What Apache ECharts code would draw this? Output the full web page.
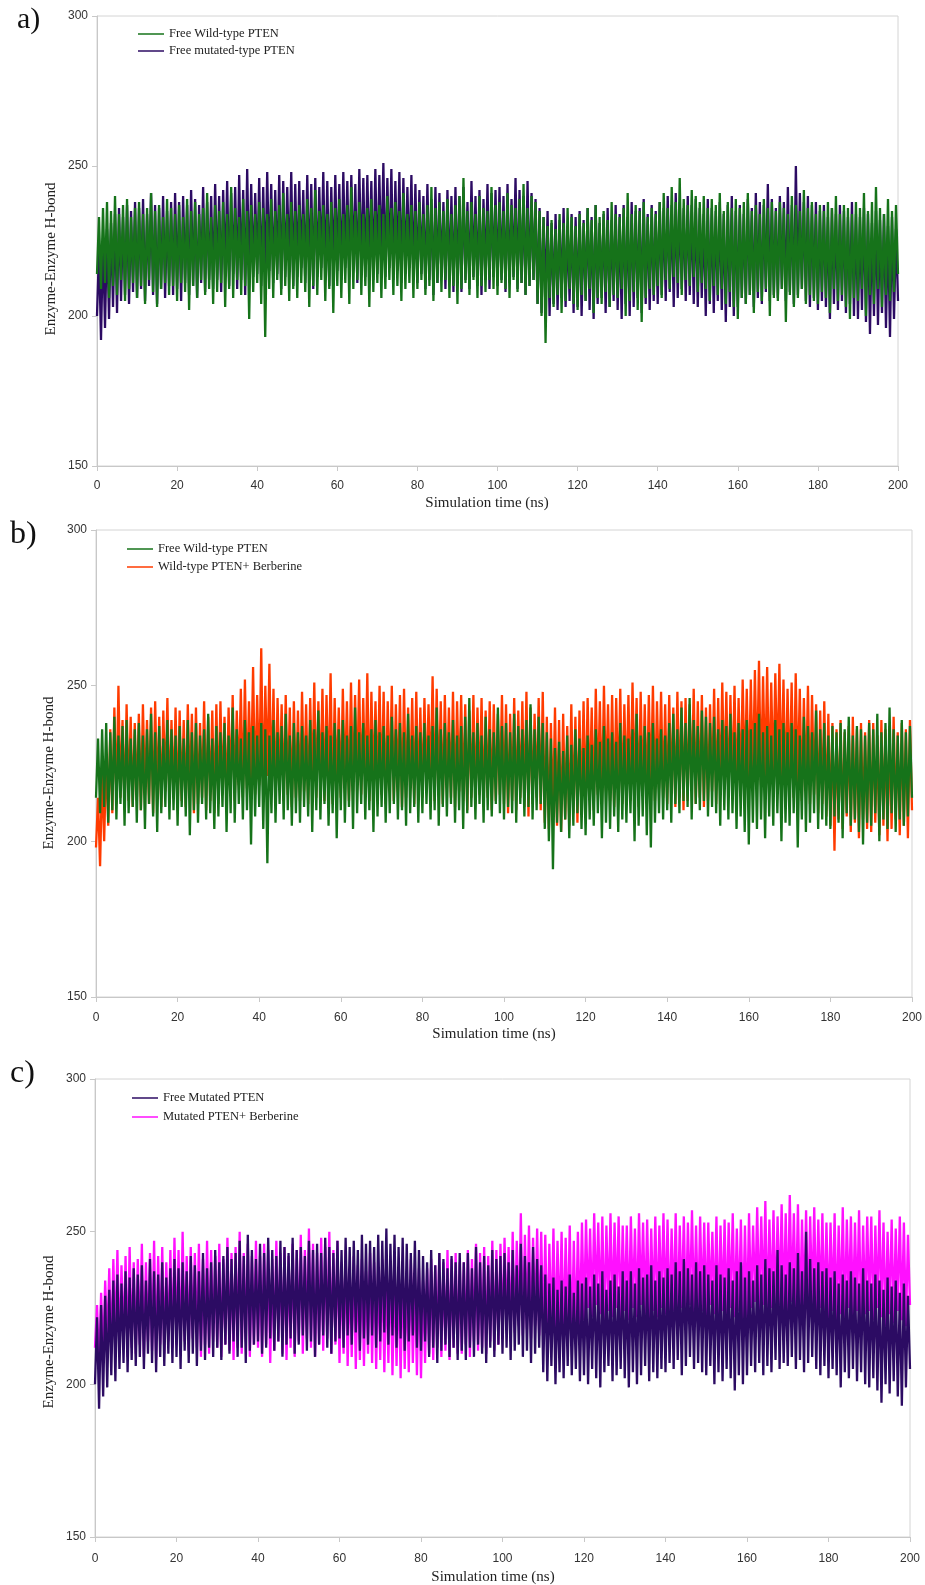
<!DOCTYPE html>
<html>
<head>
<meta charset="utf-8">
<script src="https://cdn.jsdelivr.net/npm/echarts@6/dist/echarts.min.js"></script>
<style>
  html, body { margin: 0; padding: 0; background: #fff; }
  #chart { width: 925px; height: 1585px; }
</style>
</head>
<body>
<div id="chart"></div>
<script>
// sampling step of the H-bond traces (ns)
var STEP_NS = 0.5;

// x / y tick settings
var xTicks = [0, 20, 40, 60, 80, 100, 120, 140, 160, 180, 200];
var yTicks = [150, 200, 250, 300];

// Free Wild-type PTEN (green), one row = 10 ns
var wildFree = [
  214,233,209,236,211,238,206,235,210,240,207,234,212,237,205,239,209,233,211,236,
  206,238,210,234,204,236,212,241,208,235,203,237,209,233,211,239,207,236,210,234,
  205,237,211,233,208,239,202,235,210,238,206,234,212,236,207,241,209,233,204,237,
  208,235,211,238,203,234,209,243,206,236,212,233,207,239,210,235,199,237,208,234,
  211,238,204,236,193,234,209,239,206,235,212,237,207,241,210,234,205,238,209,235,
  206,237,211,234,208,239,203,236,210,242,207,235,212,237,205,234,209,238,201,236,
  210,239,206,234,211,237,204,243,209,235,212,238,207,234,210,236,203,239,208,235,
  211,237,206,234,209,240,212,236,207,238,210,235,205,241,209,234,211,237,206,235,
  209,238,212,234,207,237,210,243,205,236,211,238,208,235,212,239,206,234,210,237,
  204,240,209,246,211,235,207,238,212,234,206,240,210,236,208,235,212,243,209,237,
  207,238,211,235,209,241,206,237,212,236,208,239,211,244,207,236,210,240,212,238,
  204,235,200,233,191,230,206,232,203,229,207,234,201,231,205,236,209,233,204,230,
  202,234,207,231,205,236,209,232,201,237,206,233,204,235,208,232,203,238,207,234,
  206,233,209,236,200,241,205,234,208,237,202,235,198,238,206,233,209,236,207,234,
  210,238,206,241,212,236,209,243,213,238,211,246,207,239,212,237,210,242,213,240,
  208,238,211,240,209,236,205,239,210,237,207,241,209,235,204,238,208,236,203,239,
  199,236,206,238,204,241,207,235,201,237,208,234,205,239,209,236,200,238,206,235,
  205,238,209,236,198,234,207,240,203,237,206,235,209,242,204,236,207,238,205,234,
  204,237,208,235,206,238,201,236,209,240,205,234,207,237,203,236,199,234,206,238,
  205,236,209,241,200,235,207,238,204,243,209,236,203,234,207,239,205,235,208,237,
  214
];

// Free mutated PTEN (dark purple)
var mutFree = [
  200,222,192,226,196,229,199,231,203,234,201,236,205,233,207,237,204,235,208,238,
  206,236,209,239,205,234,210,241,207,237,204,236,209,240,206,235,210,238,207,241,
  209,238,205,240,211,237,207,242,210,239,206,237,211,243,208,238,212,240,209,244,
  212,240,208,242,213,245,210,241,214,243,209,247,212,242,207,249,211,244,213,241,
  214,246,210,243,212,248,215,244,211,242,214,247,209,245,213,243,215,248,210,244,
  213,245,216,242,211,247,214,244,209,246,213,243,216,248,212,245,210,243,214,247,
  215,244,212,248,216,245,213,247,217,244,211,249,215,246,213,247,216,245,212,249,
  214,247,217,251,213,246,216,249,212,245,215,248,211,246,214,243,216,247,212,244,
  211,242,214,240,209,244,212,239,207,243,211,241,213,238,209,242,212,240,208,243,
  211,240,208,243,212,238,209,245,213,240,210,242,207,239,212,244,209,241,213,242,
  210,243,212,240,208,244,211,239,213,246,209,242,211,240,207,245,210,241,212,239,
  204,236,201,233,206,235,200,231,204,234,202,232,206,236,203,230,205,234,201,233,
  203,235,200,232,205,236,202,233,199,237,204,231,206,234,201,236,203,232,205,237,
  202,234,199,237,204,233,200,238,203,235,206,236,201,239,204,234,202,237,205,235,
  204,238,207,236,205,240,208,237,203,241,206,238,209,236,205,240,207,237,204,239,
  203,236,206,234,200,239,204,236,201,235,205,238,202,234,198,237,203,240,200,235,
  203,237,206,234,204,239,207,236,203,241,206,238,204,237,208,244,205,239,207,236,
  206,240,209,238,205,243,208,237,204,250,207,241,209,238,205,240,203,237,206,238,
  202,235,205,237,203,233,199,236,204,234,202,237,205,235,201,233,204,238,200,234,
  199,233,202,236,198,234,194,231,200,235,197,232,201,234,196,230,193,233,199,229,
  205
];

// Wild-type PTEN + Berberine (orange-red)
var wildBerb = [
  198,214,192,222,200,228,205,236,209,243,212,250,214,239,210,244,213,240,211,238,
  213,241,210,244,215,239,212,243,209,245,214,240,211,242,216,246,212,239,214,243,
  210,242,213,239,211,244,215,241,209,243,212,238,214,245,210,240,213,242,209,244,
  212,245,215,240,211,243,216,247,213,242,218,249,214,252,217,245,219,256,215,247,
  218,262,214,250,221,257,216,249,212,246,217,244,213,247,215,243,211,245,214,242,
  213,248,216,244,212,246,217,251,214,245,218,249,213,247,216,254,212,246,217,243,
  214,249,218,245,213,251,216,247,219,252,215,246,217,254,213,248,218,245,216,250,
  215,248,212,245,217,250,213,244,216,247,211,249,214,243,217,246,212,248,215,243,
  214,246,217,244,218,253,213,249,216,245,212,247,217,243,214,248,211,245,216,247,
  213,244,210,242,214,247,212,243,215,246,211,242,214,245,210,244,213,241,215,247,
  212,244,209,241,213,246,210,242,214,245,211,248,208,243,212,241,214,246,210,248,
  206,240,204,238,208,243,205,239,203,241,207,237,205,244,209,240,206,242,210,245,
  211,246,214,243,210,249,215,245,212,250,216,244,213,247,211,246,215,249,212,244,
  216,247,213,251,217,246,211,248,215,244,212,247,216,250,213,245,217,248,214,244,
  212,247,215,243,211,248,214,245,210,246,213,244,216,249,212,245,214,247,211,243,
  213,244,216,249,212,246,215,251,218,248,214,247,217,250,213,246,216,252,219,249,
  216,252,219,255,221,258,218,253,220,256,217,251,219,254,222,257,218,252,215,249,
  217,251,214,254,218,249,213,246,216,250,212,247,215,244,209,242,212,245,208,241,
  205,238,197,236,207,239,204,235,208,237,203,240,206,236,201,238,207,235,204,239,
  203,238,206,234,202,239,205,236,200,237,204,240,207,235,202,238,205,236,201,239,
  210
];

// Mutated PTEN + Berberine (magenta)
var mutBerb = [
  212,226,205,230,209,234,213,238,210,241,214,244,211,239,213,242,209,245,212,240,
  210,241,213,246,209,240,214,243,211,247,208,242,213,245,210,240,214,244,212,248,
  213,244,210,250,214,242,211,245,215,243,212,246,209,241,213,247,210,244,214,242,
  212,246,209,241,213,248,211,243,208,245,212,250,210,243,214,246,209,242,213,247,
  212,242,209,246,213,244,207,241,211,247,214,243,210,245,208,242,212,246,209,244,
  214,249,210,244,215,251,212,246,209,243,213,248,211,245,215,250,210,244,213,247,
  207,240,210,244,206,238,209,242,205,239,208,241,206,237,210,243,207,240,205,238,
  208,241,204,237,207,240,203,238,206,236,202,239,205,237,204,241,207,235,203,238,
  202,234,207,238,210,241,208,239,212,243,209,240,211,244,208,241,212,243,210,240,
  210,240,213,244,209,241,214,246,211,243,212,245,210,242,214,247,211,244,213,246,
  215,248,218,245,214,250,217,247,219,256,216,249,218,252,215,248,219,251,216,250,
  216,249,213,246,217,251,214,247,218,250,215,248,217,252,213,247,216,250,218,253,
  221,254,225,251,222,256,226,253,223,255,220,252,224,256,222,253,225,255,221,252,
  224,252,221,255,225,251,222,256,226,253,223,254,220,251,224,255,222,252,225,256,
  223,254,220,251,224,256,221,252,225,255,222,253,226,257,223,252,221,255,224,253,
  222,253,226,250,223,255,220,252,224,254,221,253,225,256,222,251,224,254,220,252,
  221,256,225,252,227,258,224,255,226,260,222,254,225,257,223,255,226,259,224,256,
  223,262,227,256,224,259,222,254,225,257,221,255,226,258,223,254,225,256,222,253,
  221,253,224,256,220,252,223,258,221,254,225,255,222,253,224,257,221,252,223,255,
  224,255,221,252,225,257,222,253,219,250,223,254,220,251,224,255,221,253,219,249,
  226
];

var GREEN = '#16731a';
var PURPLE = '#2c0b63';
var ORANGE = '#ff3b00';
var MAGENTA = '#ff10ff';

function toPoints(vals) {
  return vals.map(function (v, i) { return [i * STEP_NS, v]; });
}

var serif = '"Liberation Serif", "DejaVu Serif", serif';
var sans = '"Liberation Sans", Arial, sans-serif';

// panel boxes
var grids = [
  { left: 97, top: 16, width: 801, height: 450 },
  { left: 96, top: 530, width: 816, height: 467 },
  { left: 95, top: 1079, width: 815, height: 458 }
];
var labelMargins = [14, 15, 16];

var xAxes = grids.map(function (g, i) {
  return {
    type: 'value', gridIndex: i, min: xTicks[0], max: xTicks[xTicks.length - 1], interval: 20,
    axisLine: { lineStyle: { color: '#c8c8c8', width: 1 } },
    axisTick: { length: 5, lineStyle: { color: '#c8c8c8' } },
    axisLabel: { color: '#333', fontFamily: sans, fontSize: 12, margin: labelMargins[i] },
    splitLine: { show: false }
  };
});
var yAxes = grids.map(function (g, i) {
  return {
    type: 'value', gridIndex: i, min: yTicks[0], max: yTicks[yTicks.length - 1], interval: 50,
    axisLine: { show: true, lineStyle: { color: '#c8c8c8', width: 1 } },
    axisTick: { show: true, length: 5, lineStyle: { color: '#c8c8c8' } },
    axisLabel: { color: '#333', fontFamily: sans, fontSize: 12, margin: 9 },
    splitLine: { show: false }
  };
});

function line(name, vals, color, gi, z) {
  return {
    name: name, type: 'line', xAxisIndex: gi, yAxisIndex: gi,
    data: toPoints(vals), symbol: 'none', z: z,
    lineStyle: { color: color, width: 2.3, join: 'bevel' },
    itemStyle: { color: color },
    animation: false
  };
}

function legend(names, left, top, gap) {
  return {
    orient: 'vertical', left: left, top: top, data: names, padding: 0,
    icon: 'rect', itemWidth: 26, itemHeight: 1.5, itemGap: gap,
    selectedMode: false,
    textStyle: { fontFamily: serif, fontSize: 12.5, color: '#222', lineHeight: 14 }
  };
}

var chart = echarts.init(document.getElementById('chart'));
chart.setOption({
  backgroundColor: '#fff',
  animation: false,
  grid: grids.map(function (g) {
    return Object.assign({ show: true, borderColor: '#d4d4d4', borderWidth: 1, backgroundColor: 'transparent' }, g);
  }),
  xAxis: xAxes,
  yAxis: yAxes,
  legend: [
    legend(['Free Wild-type PTEN', 'Free mutated-type PTEN'], 138, 27, 3),
    legend(['Free Wild-type PTEN ', 'Wild-type PTEN+ Berberine'], 127, 542, 4),
    legend(['Free Mutated PTEN', 'Mutated PTEN+ Berberine'], 132, 1091, 5)
  ],
  series: [
    line('Free mutated-type PTEN', mutFree, PURPLE, 0, 2),
    line('Free Wild-type PTEN', wildFree, GREEN, 0, 3),
    line('Wild-type PTEN+ Berberine', wildBerb, ORANGE, 1, 2),
    line('Free Wild-type PTEN ', wildFree, GREEN, 1, 3),
    line('Mutated PTEN+ Berberine', mutBerb, MAGENTA, 2, 2),
    line('Free Mutated PTEN', mutFree, PURPLE, 2, 3)
  ],
  graphic: [
    { type: 'text', left: 17, top: 5, style: { text: 'a)', font: '30px ' + serif, fill: '#111' } },
    { type: 'text', left: 10, top: 519, style: { text: 'b)', font: '32px ' + serif, fill: '#111' } },
    { type: 'text', left: 10, top: 1058, style: { text: 'c)', font: '32px ' + serif, fill: '#111' } },

    { type: 'text', x: 51, y: 259, rotation: Math.PI / 2, style: { text: 'Enzyme-Enzyme H-bond', font: '15px ' + serif, fill: '#222', align: 'center', verticalAlign: 'middle' } },
    { type: 'text', x: 49, y: 773, rotation: Math.PI / 2, style: { text: 'Enzyme-Enzyme H-bond', font: '15px ' + serif, fill: '#222', align: 'center', verticalAlign: 'middle' } },
    { type: 'text', x: 49, y: 1332, rotation: Math.PI / 2, style: { text: 'Enzyme-Enzyme H-bond', font: '15px ' + serif, fill: '#222', align: 'center', verticalAlign: 'middle' } },

    { type: 'text', x: 487, y: 503, style: { text: 'Simulation time (ns)', font: '15px ' + serif, fill: '#222', align: 'center', verticalAlign: 'middle' } },
    { type: 'text', x: 494, y: 1034, style: { text: 'Simulation time (ns)', font: '15px ' + serif, fill: '#222', align: 'center', verticalAlign: 'middle' } },
    { type: 'text', x: 493, y: 1577, style: { text: 'Simulation time (ns)', font: '15px ' + serif, fill: '#222', align: 'center', verticalAlign: 'middle' } }
  ]
});
</script>
</body>
</html>
